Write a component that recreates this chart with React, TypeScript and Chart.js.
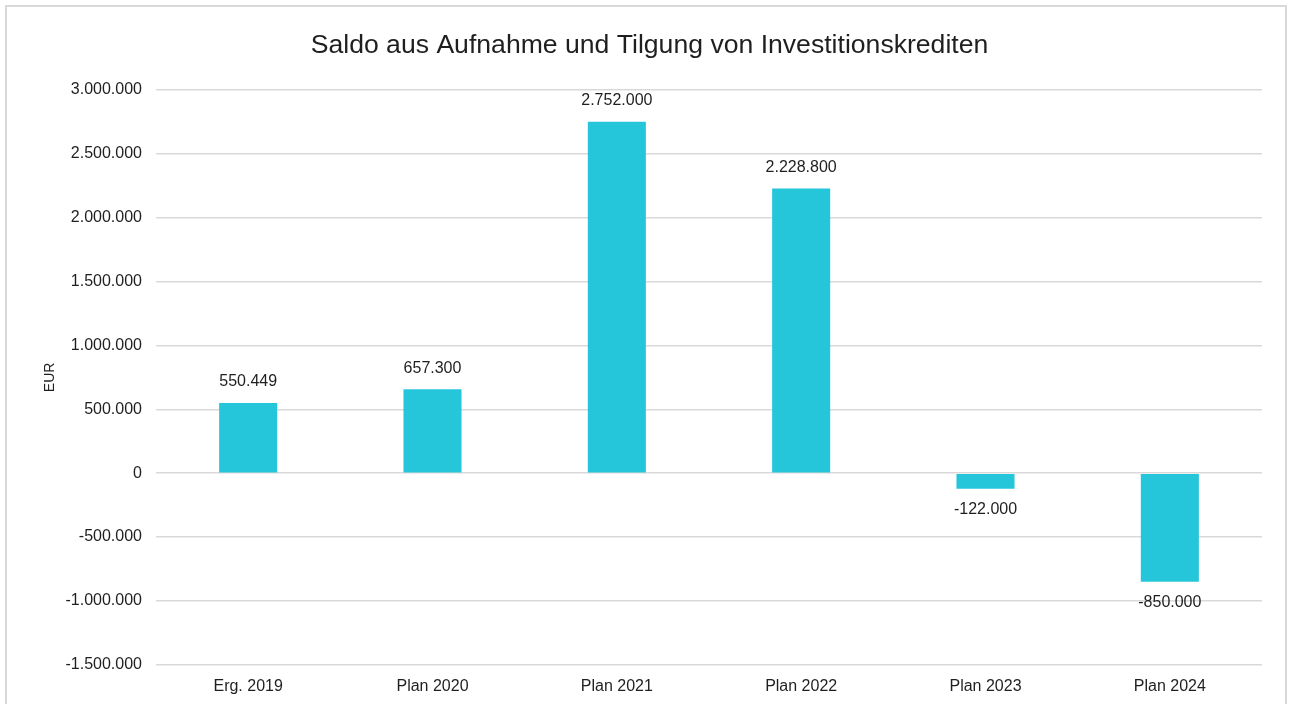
import React, { useEffect, useRef } from "react";
import { Chart, registerables } from "chart.js";

Chart.register(...registerables);

const categories = ["Erg. 2019", "Plan 2020", "Plan 2021", "Plan 2022", "Plan 2023", "Plan 2024"];
const values = [550449, 657300, 2752000, 2228800, -122000, -850000];
const yMin = -1500000;
const yMax = 3000000;
const yStep = 500000;

const titleText = "Saldo aus Aufnahme und Tilgung von Investitionskrediten";
const yTitle = "EUR";

const fmt = (v: number) => {
  const neg = v < 0;
  const s = Math.abs(Math.round(v)).toString().replace(/\B(?=(\d{3})+(?!\d))/g, ".");
  return (neg ? "-" : "") + s;
};

const FONT = "'Liberation Sans', Arial, sans-serif";
const TXT = "#1f1f1f";

const labelPlugin = {
  id: "valueLabels",
  afterDatasetsDraw(chart: any) {
    const ctx = chart.ctx;
    const meta = chart.getDatasetMeta(0);
    ctx.save();
    ctx.font = `16px ${FONT}`;
    ctx.fillStyle = TXT;
    ctx.textAlign = "center";
    ctx.textBaseline = "middle";
    meta.data.forEach((bar: any, i: number) => {
      const v = values[i];
      const y = v >= 0 ? bar.y - 21 : bar.y + 21;
      ctx.fillText(fmt(v), bar.x, y);
    });
    ctx.restore();
  },
};

export default function App() {
  const ref = useRef<HTMLCanvasElement | null>(null);
  useEffect(() => {
    if (!ref.current) return;
    const chart = new Chart(ref.current, {
      type: "bar",
      data: {
        labels: categories,
        datasets: [
          {
            data: values,
            backgroundColor: "#26C6DA",
            barPercentage: 0.63,
            categoryPercentage: 0.5,
          },
        ],
      },
      options: {
        animation: false,
        responsive: false,
        maintainAspectRatio: false,
        layout: { padding: { left: 30, right: 23, top: 0, bottom: 7 } },
        plugins: {
          legend: { display: false },
          tooltip: { enabled: false },
          title: {
            display: true,
            text: titleText,
            color: TXT,
            font: { family: FONT, size: 26.6, weight: "normal" as any },
            padding: { top: 22.8, bottom: 28.3 },
          },
        },
        scales: {
          x: {
            grid: { display: false },
            border: { display: false },
            ticks: {
              color: TXT,
              font: { family: FONT, size: 16 },
              padding: 4,
              maxRotation: 0,
            },
          },
          y: {
            min: yMin,
            max: yMax,
            afterFit(scale: any) {
              scale.width = 119;
            },
            grid: { color: "#d9d9d9", lineWidth: 1.5, drawTicks: false },
            border: { display: false },
            ticks: {
              stepSize: yStep,
              color: TXT,
              padding: 14,
              font: { family: FONT, size: 16 },
              callback: (v: any) => fmt(Number(v)),
            },
            title: {
              display: true,
              text: yTitle,
              color: TXT,
              font: { family: FONT, size: 14 },
              padding: { top: 5, bottom: 0 },
            },
          },
        },
      },
      plugins: [labelPlugin],
    });
    return () => chart.destroy();
  }, []);

  return (
    <div
      style={{
        position: "absolute",
        left: 5,
        top: 5,
        width: 1278,
        height: 720,
        border: "2px solid #d9d9d9",
        background: "#fff",
        boxSizing: "content-box",
      }}
    >
      <canvas ref={ref} width={1278} height={700} style={{ display: "block" }} />
    </div>
  );
}
